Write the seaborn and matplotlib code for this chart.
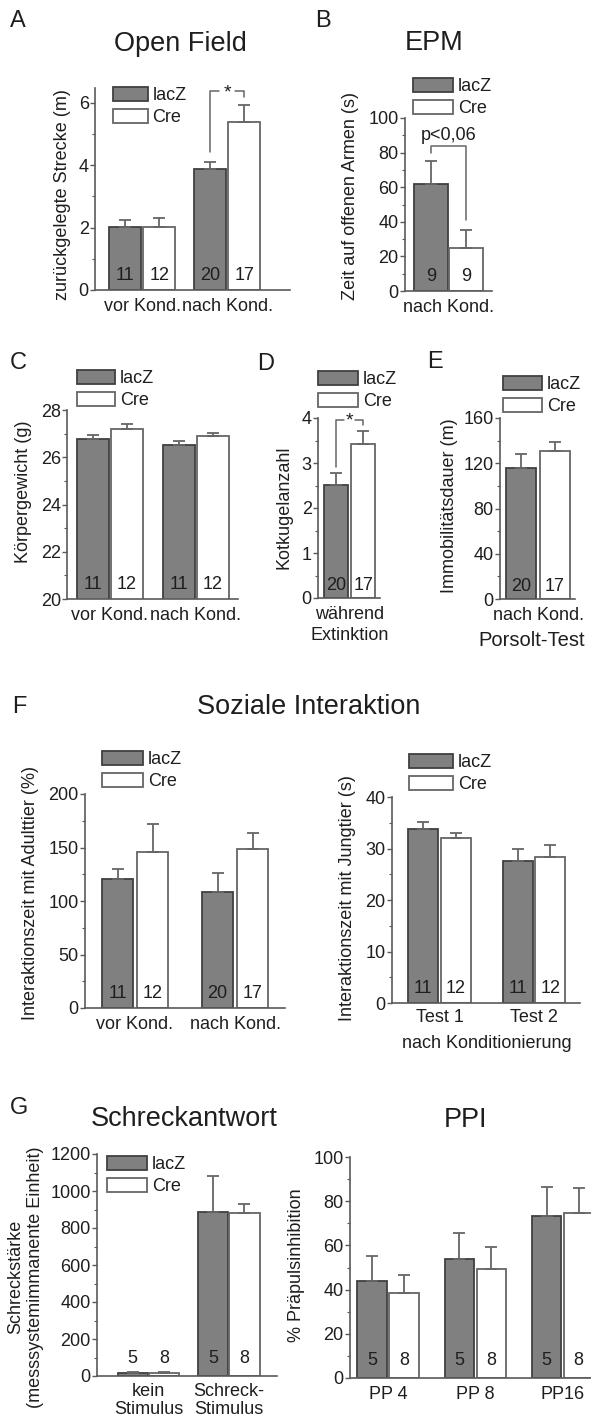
import numpy as np
import pandas as pd
import matplotlib
matplotlib.use("Agg")
from matplotlib import pyplot as plt
from matplotlib.patches import Patch
from matplotlib.ticker import MultipleLocator
import seaborn as sns

sns.set_style("ticks")
plt.rcParams['font.family'] = ['Liberation Sans', 'DejaVu Sans']

W, H = 591, 1423
GRAY = "#808080"
GRAY_EDGE = "#404040"
WHITE_EDGE = "#666666"
AXIS = "#5a5a5a"
TEXT = "#1e1e1e"
FS = 13

# A - Open Field
of_cats = ["vor Kond.", "nach Kond."]
of_lacz = [2.02, 3.88]
of_lacz_err = [0.22, 0.23]
of_cre = [2.03, 5.38]
of_cre_err = [0.27, 0.57]
of_n_lacz = [11, 20]
of_n_cre = [12, 17]

# B - EPM
epm_cats = ["nach Kond."]
epm_lacz = [61.8]
epm_lacz_err = [13.4]
epm_cre = [24.8]
epm_cre_err = [10.5]
epm_n_lacz = [9]
epm_n_cre = [9]

# C - Koerpergewicht
kg_cats = ["vor Kond.", "nach Kond."]
kg_lacz = [26.76, 26.52]
kg_lacz_err = [0.17, 0.17]
kg_cre = [27.2, 26.9]
kg_cre_err = [0.2, 0.14]
kg_n_lacz = [11, 11]
kg_n_cre = [12, 12]

# D - Kotkugeln
kk_cats = ["während\nExtinktion"]
kk_lacz = [2.51]
kk_lacz_err = [0.26]
kk_cre = [3.42]
kk_cre_err = [0.29]
kk_n_lacz = [20]
kk_n_cre = [17]

# E - Porsolt
po_cats = ["nach Kond."]
po_lacz = [115.5]
po_lacz_err = [12.7]
po_cre = [130.9]
po_cre_err = [8.0]
po_n_lacz = [20]
po_n_cre = [17]

# F - Soziale Interaktion
ad_cats = ["vor Kond.", "nach Kond."]
ad_lacz = [120.3, 108.7]
ad_lacz_err = [9.3, 17.7]
ad_cre = [146.0, 148.3]
ad_cre_err = [26.0, 15.0]
ad_n_lacz = [11, 20]
ad_n_cre = [12, 17]

jt_cats = ["Test 1", "Test 2"]
jt_lacz = [33.7, 27.5]
jt_lacz_err = [1.4, 2.5]
jt_cre = [32.0, 28.3]
jt_cre_err = [1.1, 2.3]
jt_n_lacz = [11, 11]
jt_n_cre = [12, 12]

# G - Schreckantwort / PPI
sa_cats = ["kein\nStimulus", "Schreck-\nStimulus"]
sa_lacz = [16.0, 888.0]
sa_lacz_err = [4.0, 193.0]
sa_cre = [18.0, 883.0]
sa_cre_err = [4.0, 45.0]
sa_n_lacz = [5, 5]
sa_n_cre = [8, 8]

ppi_cats = ["PP 4", "PP 8", "PP16"]
ppi_lacz = [44.0, 54.0, 73.3]
ppi_lacz_err = [11.2, 11.5, 13.0]
ppi_cre = [38.3, 49.2, 74.7]
ppi_cre_err = [8.4, 10.1, 11.3]
ppi_n_lacz = [5, 5, 5]
ppi_n_cre = [8, 8, 8]

fig = plt.figure(figsize=(W / 100, H / 100), dpi=100)


def fx(x):
    return x / W


def fy(y):
    return 1 - y / H


def bar_panel(box, cats, lacz, lacz_err, cre, cre_err, n_lacz, n_cre, ylim, major, minor,
              xlim, width, gap, ylabel, lab_xy, n_off=7.2, xpad=6, linespacing=1.2):
    x0, ytop, x1, ybot = box
    ax = fig.add_axes([fx(x0), fy(ybot), (x1 - x0) / W, (ybot - ytop) / H])
    df = pd.DataFrame({"cat": cats * 2, "val": lacz + cre,
                       "geno": ["lacZ"] * len(cats) + ["Cre"] * len(cats)})
    sns.barplot(data=df, x="cat", y="val", hue="geno", hue_order=["lacZ", "Cre"], order=cats,
                palette={"lacZ": GRAY, "Cre": "white"}, width=width, gap=gap, errorbar=None,
                linewidth=1.3, legend=False, ax=ax)
    centers = []
    for cont, edge, err, ns in zip(ax.containers, [GRAY_EDGE, WHITE_EDGE],
                                   [lacz_err, cre_err], [n_lacz, n_cre]):
        xs = [b.get_x() + b.get_width() / 2 for b in cont]
        ys = [b.get_height() for b in cont]
        centers.append(xs)
        for b in cont:
            b.set_edgecolor(edge)
        ax.errorbar(xs, ys, yerr=[np.zeros(len(err)), err], fmt="none", ecolor=WHITE_EDGE,
                    elinewidth=1.3, capsize=4.5, capthick=1.3)
        for x, n in zip(xs, ns):
            ax.annotate(str(n), (x, ylim[0]), xytext=(0, n_off), textcoords="offset points",
                        ha="center", va="baseline", fontsize=FS, color=TEXT)
    ax.set_xlim(xlim)
    ax.set_ylim(ylim)
    ax.yaxis.set_major_locator(MultipleLocator(major))
    ax.yaxis.set_minor_locator(MultipleLocator(minor))
    sns.despine(ax=ax)
    for s in ["left", "bottom"]:
        ax.spines[s].set_color(AXIS)
        ax.spines[s].set_linewidth(1.2)
    ax.tick_params(axis="x", length=0, pad=xpad, labelsize=FS, labelcolor=TEXT)
    ax.tick_params(axis="y", which="major", direction="out", length=3.5, width=1, pad=1,
                   color=AXIS, labelsize=FS, labelcolor=TEXT)
    ax.tick_params(axis="y", which="minor", direction="out", length=2, width=0.8, color=AXIS)
    for t in ax.get_xticklabels():
        t.set_linespacing(linespacing)
    ax.set_xlabel("")
    ax.set_ylabel(ylabel, fontsize=FS, color=TEXT)
    ax.yaxis.set_label_coords(fx(lab_xy[0]), fy(lab_xy[1]), transform=fig.transFigure)
    return ax, centers


def add_legend(ax, x, y, hw=40):
    handles = [Patch(facecolor=GRAY, edgecolor=GRAY_EDGE, lw=1.3),
               Patch(facecolor="white", edgecolor=WHITE_EDGE, lw=1.3)]
    leg = ax.legend(handles, ["lacZ", "Cre"], loc="upper left", bbox_to_anchor=(fx(x), fy(y)),
                    bbox_transform=fig.transFigure, frameon=False, borderpad=0, borderaxespad=0,
                    handlelength=hw / 18, handleheight=0.82, handletextpad=0.25,
                    labelspacing=0.25, fontsize=FS)
    for t in leg.get_texts():
        t.set_color(TEXT)


def bracket(ax, xl, xr, yl, ytop, yr, gap=None, star_dy=0):
    if gap is None:
        ax.plot([xl, xl, xr, xr], [yl, ytop, ytop, yr], color=WHITE_EDGE, lw=1.1, clip_on=False)
    else:
        xm = (xl + xr) / 2
        ax.plot([xl, xl, xm - gap], [yl, ytop, ytop], color=WHITE_EDGE, lw=1.1, clip_on=False)
        ax.plot([xm + gap, xr, xr], [ytop, ytop, yr], color=WHITE_EDGE, lw=1.1, clip_on=False)
        ax.text(xm, ytop + star_dy, "*", ha="center", va="center", fontsize=14, color=TEXT)


# A
axA, cA = bar_panel((95, 88, 290, 290), of_cats, of_lacz, of_lacz_err, of_cre, of_cre_err,
                    of_n_lacz, of_n_cre, (0, 6.48), 2, 1, (-0.553, 1.74), 0.81, 0.07,
                    "zurückgelegte Strecke (m)", (71, 195))
add_legend(axA, 113, 87, 35)
bracket(axA, cA[0][1], cA[1][1], 4.42, 6.38, 6.19, gap=0.09, star_dy=-0.05)

# B
axB, cB = bar_panel((405, 118, 492, 291), epm_cats, epm_lacz, epm_lacz_err, epm_cre, epm_cre_err,
                    epm_n_lacz, epm_n_cre, (0, 100), 20, 10, (-0.49, 0.49), 0.8, 0.04,
                    "Zeit auf offenen Armen (s)", (359, 196))
add_legend(axB, 413, 78, 40)
bracket(axB, cB[0][0], cB[1][0], 79.8, 83.8, 41)
axB.text((cB[0][0] + cB[1][0]) / 2, 85, "p<0,06", ha="center", va="bottom", fontsize=FS,
         color=TEXT)

# C
axC, cC = bar_panel((67, 410, 238, 599), kg_cats, kg_lacz, kg_lacz_err, kg_cre, kg_cre_err,
                    kg_n_lacz, kg_n_cre, (20, 28), 2, 1, (-0.5, 1.49), 0.79, 0.06,
                    "Körpergewicht (g)", (32, 492))
add_legend(axC, 77, 370, 38)

# D
axD, cD = bar_panel((318, 418, 380, 598), kk_cats, kk_lacz, kk_lacz_err, kk_cre, kk_cre_err,
                    kk_n_lacz, kk_n_cre, (0, 4), 1, 0.5, (-0.458, 0.444), 0.8, 0.12,
                    "Kotkugelanzahl", (293, 507), n_off=6, linespacing=1.25)
add_legend(axD, 318, 371, 40)
bracket(axD, cD[0][0], cD[1][0], 2.91, 3.96, 3.84, gap=0.08, star_dy=-0.03)

# E
axE, cE = bar_panel((500, 418, 575, 599), po_cats, po_lacz, po_lacz_err, po_cre, po_cre_err,
                    po_n_lacz, po_n_cre, (0, 160), 40, 20, (-0.447, 0.435), 0.8, 0.1,
                    "Immobilitätsdauer (m)", (458, 506), n_off=6)
add_legend(axE, 503, 376, 39)
fig.text(fx(532), fy(640), "Porsolt-Test", ha="center", va="center", fontsize=14.5, color=TEXT)

# F
axF1, _ = bar_panel((85, 794, 285, 1008), ad_cats, ad_lacz, ad_lacz_err, ad_cre, ad_cre_err,
                    ad_n_lacz, ad_n_cre, (0, 200), 50, 25, (-0.5, 1.5), 0.7, 0.086,
                    "Interaktionszeit mit Adulttier (%)", (39, 893))
add_legend(axF1, 102, 751, 41)

axF2, _ = bar_panel((392, 797, 580, 1003), jt_cats, jt_lacz, jt_lacz_err, jt_cre, jt_cre_err,
                    jt_n_lacz, jt_n_cre, (0, 40), 10, 5, (-0.503, 1.487), 0.688, 0.08,
                    "Interaktionszeit mit Jungtier (s)", (356, 898), xpad=4)
add_legend(axF2, 409, 754, 44)
fig.text(fx(487), fy(1044), "nach Konditionierung", ha="center", va="center", fontsize=FS,
         color=TEXT)

# G
axG1, _ = bar_panel((97, 1154, 277, 1376), sa_cats, sa_lacz, sa_lacz_err, sa_cre, sa_cre_err,
                    sa_n_lacz, sa_n_cre, (0, 1200), 200, 100, (-0.64, 1.6), 0.78, 0.03,
                    "Schreckstärke\n(messsystemimmanente Einheit)", (44, 1277), n_off=9.4,
                    linespacing=1.05, xpad=5)
add_legend(axG1, 107, 1156, 40)

axG2, _ = bar_panel((350, 1157, 650, 1378), ppi_cats, ppi_lacz, ppi_lacz_err, ppi_cre,
                    ppi_cre_err, ppi_n_lacz, ppi_n_cre, (0, 100), 20, 10, (-0.435, 3.0), 0.73,
                    0.08, "% Präpulsinhibition", (305, 1265), n_off=9.4)

# titles and panel letters
for txt, x, y in [("Open Field", 180, 44), ("EPM", 434, 43), ("Soziale Interaktion", 309, 707),
                  ("Schreckantwort", 184, 1119), ("PPI", 466, 1120)]:
    fig.text(fx(x), fy(y), txt, ha="center", va="center", fontsize=19.5, color=TEXT)
for txt, x, y in [("A", 10, 21), ("B", 315, 21), ("C", 10, 363), ("D", 257, 364),
                  ("E", 427, 362), ("F", 12, 707), ("G", 10, 1108)]:
    fig.text(fx(x), fy(y), txt, ha="left", va="center", fontsize=17, color=TEXT)

fig.savefig("out.png", dpi=100)
